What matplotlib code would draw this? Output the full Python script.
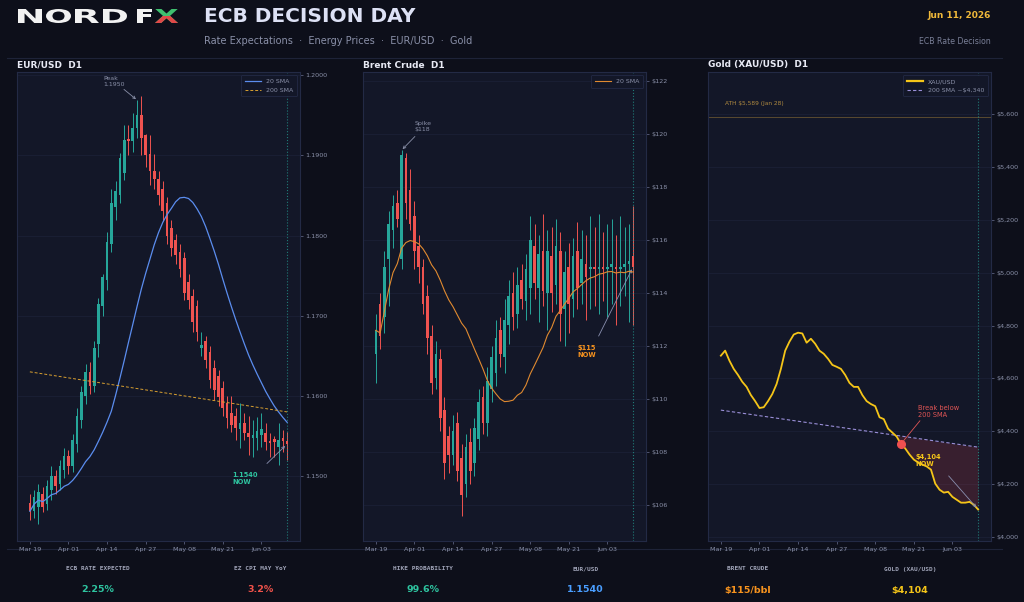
import numpy as np
import matplotlib
matplotlib.use("Agg")
import matplotlib.pyplot as plt
from matplotlib.textpath import TextPath
from matplotlib.patches import PathPatch, Rectangle
from matplotlib.font_manager import FontProperties
from matplotlib.transforms import Affine2D

# ---------------- data ----------------
date_ticks = ["Mar 19", "Apr 01", "Apr 14", "Apr 27", "May 08", "May 21", "Jun 03"]

eur_open = [1.1466, 1.1456, 1.1462, 1.1478, 1.1465, 1.1482, 1.1500, 1.1490, 1.1508, 1.1525,
            1.1512, 1.1540, 1.1570, 1.1600, 1.1630, 1.1612, 1.1665, 1.1712, 1.1745, 1.1790,
            1.1835, 1.1850, 1.1878, 1.1921, 1.1918, 1.1934, 1.1950, 1.1925, 1.1902, 1.1881,
            1.1870, 1.1858, 1.1840, 1.1810, 1.1795, 1.1780, 1.1772, 1.1742, 1.1725, 1.1712,
            1.1660, 1.1668, 1.1655, 1.1635, 1.1625, 1.1610, 1.1591, 1.1579, 1.1575, 1.1559,
            1.1566, 1.1554, 1.1548, 1.1548, 1.1551, 1.1554, 1.1544, 1.1546, 1.1536, 1.1548, 1.1544]
eur_high = [1.1478, 1.1482, 1.1490, 1.1486, 1.1495, 1.1512, 1.1508, 1.1520, 1.1535, 1.1532,
            1.1552, 1.1585, 1.1612, 1.1640, 1.1642, 1.1668, 1.1722, 1.1752, 1.1805, 1.1858,
            1.1868, 1.1903, 1.1938, 1.1938, 1.1953, 1.1969, 1.1974, 1.1927, 1.1925, 1.1902,
            1.1880, 1.1868, 1.1848, 1.1820, 1.1802, 1.1790, 1.1780, 1.1752, 1.1733, 1.1720,
            1.1680, 1.1675, 1.1662, 1.1645, 1.1632, 1.1618, 1.1600, 1.1600, 1.1585, 1.1591,
            1.1579, 1.1575, 1.1570, 1.1574, 1.1579, 1.1566, 1.1554, 1.1550, 1.1566, 1.1557, 1.1555]
eur_low = [1.1445, 1.1448, 1.1440, 1.1455, 1.1458, 1.1470, 1.1478, 1.1482, 1.1498, 1.1502,
           1.1505, 1.1530, 1.1560, 1.1590, 1.1602, 1.1605, 1.1648, 1.1700, 1.1732, 1.1780,
           1.1820, 1.1840, 1.1869, 1.1900, 1.1904, 1.1922, 1.1900, 1.1885, 1.1863, 1.1858,
           1.1838, 1.1818, 1.1790, 1.1775, 1.1765, 1.1748, 1.1720, 1.1708, 1.1680, 1.1668,
           1.1650, 1.1635, 1.1610, 1.1595, 1.1588, 1.1575, 1.1560, 1.1555, 1.1545, 1.1535,
           1.1545, 1.1526, 1.1524, 1.1532, 1.1536, 1.1532, 1.1524, 1.1524, 1.1514, 1.1530, 1.1520]
eur_close = [1.1456, 1.1474, 1.1480, 1.1462, 1.1488, 1.1500, 1.1488, 1.1512, 1.1525, 1.1512,
             1.1545, 1.1575, 1.1605, 1.1630, 1.1612, 1.1660, 1.1715, 1.1748, 1.1792, 1.1840,
             1.1855, 1.1897, 1.1919, 1.1918, 1.1934, 1.1950, 1.1922, 1.1900, 1.1881, 1.1870,
             1.1850, 1.1830, 1.1800, 1.1785, 1.1776, 1.1758, 1.1728, 1.1720, 1.1692, 1.1680,
             1.1664, 1.1645, 1.1620, 1.1607, 1.1598, 1.1585, 1.1572, 1.1564, 1.1560, 1.1566,
             1.1554, 1.1549, 1.1551, 1.1556, 1.1559, 1.1542, 1.1541, 1.1542, 1.1545, 1.1544, 1.1540]
eur_sma200 = [1.1630, 1.1580]

brent_open = [111.7, 113.6, 113.1, 115.3, 116.4, 117.4, 115.3, 119.1, 117.9, 116.9,
              115.8, 115.0, 113.9, 112.4, 110.8, 111.5, 109.6, 108.6, 107.9, 109.1,
              107.8, 106.8, 108.4, 107.6, 108.5, 110.1, 109.1, 110.4, 111.0, 112.6,
              111.6, 112.8, 114.0, 113.2, 114.5, 113.7, 114.2, 115.8, 114.2, 115.6,
              114.0, 115.4, 114.3, 115.6, 113.4, 115.0, 113.8, 115.6, 114.4, 115.1,
              114.9, 115.0, 114.9, 115.0, 114.9, 115.0, 115.0, 114.9, 115.0, 115.1, 115.4]
brent_high = [113.2, 114.0, 115.6, 117.1, 117.7, 117.9, 119.4, 119.3, 118.7, 117.5,
              116.2, 115.3, 114.3, 112.8, 112.2, 111.9, 110.1, 109.0, 109.4, 109.5,
              108.3, 108.7, 108.9, 109.3, 110.4, 110.5, 111.2, 112.0, 113.0, 113.1,
              113.8, 114.5, 114.8, 115.0, 115.1, 115.5, 116.9, 116.6, 116.2, 117.0,
              116.4, 116.5, 116.8, 116.3, 115.6, 115.9, 116.1, 116.7, 116.4, 116.2,
              116.9, 116.5, 117.0, 116.3, 116.6, 116.8, 116.2, 116.9, 116.5, 116.6, 117.3]
brent_low = [110.6, 111.9, 112.5, 113.5, 115.7, 116.5, 114.9, 116.8, 116.4, 114.9,
             114.4, 113.2, 111.7, 110.2, 110.4, 108.8, 107.0, 107.2, 107.5, 106.9,
             105.6, 106.3, 106.8, 107.1, 108.1, 108.7, 108.6, 109.9, 110.5, 111.2,
             111.0, 112.1, 112.6, 112.7, 113.4, 113.0, 113.2, 113.8, 112.9, 113.5,
             112.6, 113.3, 113.6, 112.2, 112.0, 112.5, 113.1, 113.4, 113.6, 113.0,
             113.4, 113.5, 113.2, 113.7, 113.1, 113.6, 112.8, 113.5, 113.9, 112.9, 112.8]
brent_close = [112.6, 112.4, 115.0, 116.6, 117.3, 116.8, 119.2, 117.4, 116.6, 115.6,
               115.0, 113.6, 112.3, 110.6, 111.7, 109.3, 107.6, 107.9, 108.8, 107.3,
               106.4, 108.2, 107.3, 108.9, 109.9, 109.1, 110.7, 111.6, 112.3, 111.7,
               113.0, 113.9, 113.1, 114.3, 113.8, 114.9, 116.0, 114.4, 115.5, 114.1,
               115.6, 114.0, 115.8, 113.2, 114.8, 113.6, 115.4, 114.2, 115.3, 114.6,
               115.0, 114.9, 115.0, 114.9, 115.0, 115.1, 114.9, 115.0, 115.1, 115.2, 115.0]

gold_close = [4686, 4705, 4667, 4636, 4613, 4587, 4568, 4537, 4514, 4488,
              4491, 4514, 4541, 4579, 4636, 4705, 4739, 4766, 4773, 4770,
              4735, 4750, 4731, 4705, 4693, 4674, 4651, 4644, 4636, 4613,
              4583, 4568, 4568, 4537, 4514, 4503, 4495, 4453, 4446, 4410,
              4395, 4380, 4352, 4335, 4312, 4293, 4282, 4274, 4267, 4255,
              4202, 4179, 4168, 4171, 4152, 4141, 4130, 4130, 4133, 4122, 4104]
gold_sma200 = [4480, 4340]
gold_ath = 5589

stat_labels = ["ECB RATE EXPECTED", "EZ CPI MAY YoY", "HIKE PROBABILITY",
               "EUR/USD", "BRENT CRUDE", "GOLD (XAU/USD)"]
stat_values = ["2.25%", "3.2%", "99.6%", "1.1540", "$115/bbl", "$4,104"]
stat_colors = ["#2ec4a0", "#f0524a", "#2ec4a0", "#4a9eff", "#f7931e", "#f5c518"]

# ---------------- style ----------------
BG = "#0d0f1a"
PANEL = "#131728"
EDGE = "#232a45"
GRID = "#1c2238"
TXT = "#8a90a8"
UP = "#26a69a"
DOWN = "#ef5350"

fig = plt.figure(figsize=(10.24, 6.02), dpi=100, facecolor=BG)
W, H = 1024, 602


def px_axes(x0, y0, x1, y1):
    return fig.add_axes([x0 / W, 1 - y1 / H, (x1 - x0) / W, (y1 - y0) / H])


def style_axes(ax, fmt, ticks):
    ax.set_facecolor(PANEL)
    for s in ax.spines.values():
        s.set_color(EDGE)
        s.set_linewidth(0.8)
    ax.yaxis.tick_right()
    ax.set_yticks(ticks)
    ax.set_yticklabels([fmt(t) for t in ticks])
    ax.set_xticks(range(0, 9 * len(date_ticks), 9))
    ax.set_xticklabels(date_ticks)
    ax.tick_params(colors="#6a7090", labelcolor=TXT, labelsize=4.6, length=2, width=0.5, pad=2)
    ax.grid(axis="y", color=GRID, lw=0.5)
    ax.set_axisbelow(True)
    ax.set_xlim(-3, 63)


def candles(ax, o, h, l, c):
    o, h, l, c = map(np.asarray, (o, h, l, c))
    x = np.arange(len(c))
    col = np.where(c >= o, UP, DOWN)
    ax.vlines(x, l, h, colors=col, lw=0.7, zorder=2)
    body = np.maximum(np.abs(c - o), (h.max() - l.min()) * 0.003)
    ax.bar(x, body, bottom=np.minimum(o, c), width=0.62, color=col, zorder=3)


def legend(ax):
    lg = ax.legend(loc="upper right", fontsize=4.5, facecolor=PANEL, edgecolor=EDGE,
                   labelcolor=TXT, handlelength=2.6, borderpad=0.6, framealpha=1)
    lg.get_frame().set_linewidth(0.6)
    return lg


# ---------------- header ----------------
logo = fig.add_axes([0, 0, 1, 1], zorder=-1)
logo.set_xlim(0, W)
logo.set_ylim(0, H)
logo.axis("off")
bold = FontProperties(family="DejaVu Sans", weight="bold")


def box_letter(s, x0, x1, y0, y1, color, clip=None):
    tp = TextPath((0, 0), s, size=1, prop=bold)
    ext = tp.get_extents()
    tr = (Affine2D().translate(-ext.x0, -ext.y0)
          .scale((x1 - x0) / ext.width, (y1 - y0) / ext.height)
          .translate(x0, H - y1))
    p = PathPatch(tr.transform_path(tp), color=color, lw=0)
    logo.add_patch(p)
    if clip is not None:
        p.set_clip_path(clip)
    return p


for s, a, b in [("N", 18, 42), ("O", 46, 71), ("R", 75, 99), ("D", 103, 127), ("F", 137, 152)]:
    box_letter(s, a, b, 9, 23, "#f2f2f2")
box_letter("X", 155, 178, 9, 23, "#3fbf6f")
clip_rect = Rectangle((150, H - 23), 32, 7, transform=logo.transData)
box_letter("X", 155, 178, 9, 23, "#e04848", clip=clip_rect)

fig.text(204 / W, 1 - 16 / H, "ECB DECISION DAY", color="#dde1f5", fontsize=14.5,
         fontweight="bold", va="center", ha="left")
fig.text(204 / W, 1 - 41 / H, "Rate Expectations  \u00b7  Energy Prices  \u00b7  EUR/USD  \u00b7  Gold",
         color=TXT, fontsize=7, va="center", ha="left")
fig.text(991 / W, 1 - 16 / H, "Jun 11, 2026", color="#f0b93a", fontsize=6.5,
         fontweight="bold", va="center", ha="right")
fig.text(991 / W, 1 - 41 / H, "ECB Rate Decision", color="#7a8098", fontsize=5.6,
         va="center", ha="right")
logo.plot([7, 1002], [H - 58, H - 58], color="#1e2338", lw=0.8)
logo.plot([7, 1002], [H - 549, H - 549], color="#1e2338", lw=0.8)

n = len(eur_close)
idx = np.arange(n)

# ---------------- EUR/USD ----------------
ax1 = px_axes(17, 72, 300, 541)
style_axes(ax1, lambda v: f"{v:.4f}", [1.15, 1.16, 1.17, 1.18, 1.19, 1.20])
candles(ax1, eur_open, eur_high, eur_low, eur_close)
sma20 = np.array([np.mean(eur_close[max(0, i - 19):i + 1]) for i in idx])
ax1.plot(idx, sma20, color="#5b8def", lw=0.9, label="20 SMA", zorder=4)
ax1.plot([0, n - 1], eur_sma200, color="#d9a030", lw=0.7, ls=(0, (3, 2)), label="200 SMA", zorder=4)
ax1.axvline(n - 1, color=UP, ls=":", lw=0.8, alpha=0.7)
ax1.set_ylim(1.1419, 1.2004)
ax1.annotate("Peak\n1.1950", xy=(25, eur_high[25]), xytext=(17.1, 1.19925), color=TXT,
             fontsize=4.5, va="center", ha="left",
             arrowprops=dict(arrowstyle="->", color=TXT, lw=0.6, shrinkA=0, shrinkB=1))
ax1.annotate("1.1540\nNOW", xy=(n - 1, eur_close[-1]), xytext=(47.3, 1.1497), color="#2ec4a0",
             fontsize=4.8, fontweight="bold", va="center", ha="left",
             arrowprops=dict(arrowstyle="->", color="#8a90b0", lw=0.6, shrinkA=6, shrinkB=2,
                             relpos=(1, 1)))
legend(ax1)
fig.text(17 / W, 1 - 65 / H, "EUR/USD  D1", color="#e8eaf5", fontsize=6.5,
         fontweight="bold", va="center", ha="left")

# ---------------- Brent ----------------
ax2 = px_axes(363, 72, 646, 541)
style_axes(ax2, lambda v: f"${v:.0f}", list(range(106, 123, 2)))
candles(ax2, brent_open, brent_high, brent_low, brent_close)
bsma = np.array([np.mean(brent_close[max(0, i - 19):i + 1]) for i in idx])
ax2.plot(idx, bsma, color="#e08a30", lw=0.8, label="20 SMA", zorder=4)
ax2.axvline(n - 1, color=UP, ls=":", lw=0.8, alpha=0.7)
ax2.set_ylim(104.65, 122.35)
ax2.annotate("Spike\n$118", xy=(6, brent_high[6]), xytext=(9, 120.3), color=TXT,
             fontsize=4.5, va="center", ha="left",
             arrowprops=dict(arrowstyle="->", color=TXT, lw=0.6, shrinkA=2, shrinkB=1,
                             relpos=(0.3, 0)))
ax2.annotate("$115\nNOW", xy=(n - 1, brent_close[-1]), xytext=(47, 111.8), color="#f7931e",
             fontsize=4.8, fontweight="bold", va="center", ha="left",
             arrowprops=dict(arrowstyle="->", color="#8a90b0", lw=0.6, shrinkA=5, shrinkB=2,
                             relpos=(0.9, 1)))
legend(ax2)
fig.text(363 / W, 1 - 65 / H, "Brent Crude  D1", color="#e8eaf5", fontsize=6.5,
         fontweight="bold", va="center", ha="left")

# ---------------- Gold ----------------
ax3 = px_axes(708, 72, 991, 541)
style_axes(ax3, lambda v: f"${v:,.0f}", list(range(4000, 5601, 200)))
gold = np.asarray(gold_close, dtype=float)
sma_line = np.interp(idx, [0, n - 1], gold_sma200)
ax3.fill_between(idx, gold, sma_line, where=(gold <= sma_line) & (idx >= 41), interpolate=True,
                 color="#c0404a", alpha=0.22, lw=0, zorder=1)
ax3.plot(idx, gold, color="#f5c518", lw=1.3, label="XAU/USD", zorder=4)
ax3.plot([0, n - 1], gold_sma200, color="#9a8fd8", lw=0.8, ls=(0, (3, 2)),
         label="200 SMA ~$4,340", zorder=3)
ax3.axhline(gold_ath, color="#5a4a30", lw=0.7)
ax3.text(1, gold_ath + 40, "ATH $5,589 (Jan 28)", color="#b08a40", fontsize=4.2,
         va="bottom", ha="left")
ax3.axvline(n - 1, color=UP, ls=":", lw=0.8, alpha=0.7)
ax3.plot(42, gold[42], "o", ms=5.5, color="#f05050", zorder=5)
ax3.annotate("Break below\n200 SMA", xy=(42, gold[42]), xytext=(46, 4475), color="#e05555",
             fontsize=4.8, va="center", ha="left",
             arrowprops=dict(arrowstyle="-", color="#e05555", lw=0.6, shrinkA=0, shrinkB=3,
                             relpos=(0.1, 0)))
ax3.annotate("$4,104\nNOW", xy=(n - 1, gold[-1]), xytext=(45.3, 4290), color="#f5c518",
             fontsize=4.8, fontweight="bold", va="center", ha="left", zorder=6,
             arrowprops=dict(arrowstyle="->", color="#8a90b0", lw=0.6, shrinkA=6, shrinkB=2,
                             relpos=(1, 0)))
ax3.set_ylim(3985, 5759)
lg = legend(ax3)
lg.get_lines()[0].set_linewidth(1.6)
fig.text(708 / W, 1 - 65 / H, "Gold (XAU/USD)  D1", color="#e8eaf5", fontsize=6.5,
         fontweight="bold", va="center", ha="left")

# ---------------- stats ----------------
for k, (lab, val, col) in enumerate(zip(stat_labels, stat_values, stat_colors)):
    cx = (98 + 162.4 * k) / W
    fig.text(cx, 1 - 569 / H, lab, color="#a0a4b8", fontsize=4.4, family="DejaVu Sans Mono",
             fontweight="bold", ha="center", va="center")
    fig.text(cx, 1 - 590 / H, val, color=col, fontsize=6.8, fontweight="bold",
             ha="center", va="center")

fig.savefig("out.png", dpi=100, facecolor=BG)
